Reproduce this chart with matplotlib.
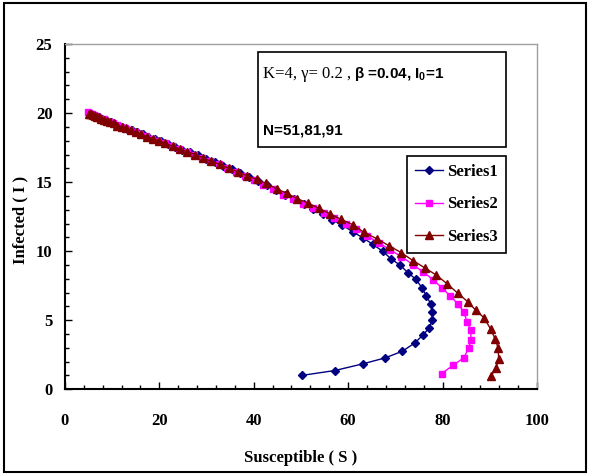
import matplotlib
matplotlib.use("Agg")
import matplotlib.pyplot as plt
from matplotlib.patches import Rectangle
from matplotlib.ticker import MultipleLocator

plt.rcParams['mathtext.fontset'] = 'custom'
plt.rcParams['mathtext.rm'] = 'Liberation Sans'
plt.rcParams['mathtext.bf'] = 'Liberation Sans:bold'

# S-I trajectories for N = 51, 81, 91
s1 = [50.3, 57.2, 63.2, 67.9, 71.5, 74.2, 75.9, 77.2, 77.8, 77.8, 77.5, 76.6, 75.6, 74.4,
      72.7, 71.0, 69.1, 67.3, 65.2, 63.1, 61.0, 58.7, 56.6, 54.6, 52.6, 50.6, 48.6, 46.7,
      44.8, 42.9, 41.0, 39.1, 37.2, 35.3, 33.5, 31.7, 29.9, 28.2, 26.5, 24.9, 23.3, 21.8,
      20.4, 19.0, 17.7, 16.5, 15.3, 14.2, 13.2, 12.2, 11.3, 10.5, 9.7, 9.0, 8.4, 7.8, 7.2,
      6.7, 6.3, 5.9, 5.6, 5.3, 5.1]
i1 = [1.0, 1.35, 1.84, 2.27, 2.75, 3.36, 3.94, 4.44, 5.0, 5.58, 6.18, 6.76, 7.36, 7.95,
      8.43, 8.99, 9.44, 10.0, 10.5, 10.97, 11.4, 11.9, 12.27, 12.66, 13.04, 13.4, 13.75, 14.1,
      14.45, 14.8, 15.1, 15.4, 15.65, 15.95, 16.2, 16.45, 16.7, 16.95, 17.15, 17.35, 17.55, 17.75,
      17.95, 18.1, 18.3, 18.45, 18.6, 18.75, 18.85, 19.0, 19.1, 19.2, 19.35, 19.45, 19.5, 19.6, 19.7,
      19.75, 19.8, 19.85, 19.9, 19.95, 20.0]

s2 = [79.8, 82.3, 84.5, 85.6, 86.0, 86.0, 85.2, 84.5, 83.2, 81.6, 79.8, 78.0, 75.9, 73.7,
      71.3, 68.9, 66.5, 64.1, 61.7, 59.5, 57.1, 54.9, 52.6, 50.4, 48.3, 46.3, 44.1, 42.0,
      40.0, 38.1, 36.2, 34.4, 32.6, 30.8, 29.1, 27.4, 25.8, 24.2, 22.7, 21.2, 19.8, 18.5,
      17.2, 16.0, 14.9, 13.8, 12.8, 11.9, 11.0, 10.2, 9.5, 8.8, 8.2, 7.6, 7.1, 6.6, 6.2,
      5.8, 5.5, 5.2, 4.9]
i2 = [1.13, 1.74, 2.27, 3.0, 3.57, 4.3, 4.88, 5.6, 6.2, 6.76, 7.36, 7.94, 8.48, 9.03,
      9.6, 10.1, 10.6, 11.1, 11.6, 12.0, 12.4, 12.75, 13.1, 13.45, 13.8, 14.1, 14.5, 14.8,
      15.15, 15.45, 15.75, 16.0, 16.3, 16.55, 16.75, 17.0, 17.2, 17.4, 17.6, 17.8, 18.0, 18.15,
      18.35, 18.5, 18.6, 18.75, 18.9, 19.0, 19.15, 19.25, 19.35, 19.45, 19.55, 19.6, 19.7, 19.8,
      19.85, 19.9, 19.95, 20.0, 20.05]

s3 = [90.3, 91.3, 91.9, 91.8, 91.2, 90.2, 88.8, 87.1, 85.3, 83.2, 81.0, 78.7, 76.2, 73.8,
      71.2, 68.6, 66.1, 63.4, 61.1, 58.5, 56.2, 53.8, 51.4, 49.2, 47.0, 44.9, 42.7, 40.6,
      38.6, 36.6, 34.7, 32.8, 31.0, 29.3, 27.6, 25.9, 24.3, 22.8, 21.3, 19.9, 18.6, 17.3,
      16.1, 15.0, 13.9, 12.9, 12.0, 11.1, 10.3, 9.6, 8.9, 8.3, 7.7, 7.2, 6.7, 6.3, 5.9,
      5.6, 5.3, 5.1]
i3 = [0.97, 1.5, 2.17, 2.95, 3.6, 4.35, 5.17, 5.7, 6.35, 6.96, 7.63, 8.26, 8.8, 9.3,
      9.9, 10.4, 10.9, 11.35, 11.9, 12.3, 12.7, 13.1, 13.5, 13.8, 14.2, 14.5, 14.9, 15.2,
      15.45, 15.75, 16.0, 16.3, 16.5, 16.75, 17.0, 17.2, 17.4, 17.6, 17.8, 18.0, 18.15, 18.3,
      18.45, 18.6, 18.75, 18.9, 19.0, 19.1, 19.25, 19.35, 19.45, 19.5, 19.6, 19.7, 19.75, 19.8,
      19.85, 19.9, 19.95, 19.95]

labels = ['Series1', 'Series2', 'Series3']

serif = 'Liberation Serif'
sans = 'Liberation Sans'

fig = plt.figure(figsize=(5.9, 4.74), dpi=100)
ax = fig.add_axes([0.110, 0.179, 0.800, 0.728])

ax.plot(s1, i1, color='#000080', marker='D', markersize=4.5, linewidth=1, label=labels[0])
ax.plot(s2, i2, color='#ff00ff', marker='s', markersize=5, linewidth=1, label=labels[1])
ax.plot(s3, i3, color='#800000', marker='^', markersize=6, linewidth=1, label=labels[2])

ax.set_xlim(0, 100)
ax.set_ylim(0, 25)
ax.xaxis.set_major_locator(MultipleLocator(20))
ax.xaxis.set_minor_locator(MultipleLocator(4))
ax.yaxis.set_major_locator(MultipleLocator(5))
ax.yaxis.set_minor_locator(MultipleLocator(1))
ax.tick_params(axis='both', which='both', direction='in', colors='black')
ax.tick_params(axis='both', which='major', length=5, width=1)
ax.tick_params(axis='both', which='minor', length=3, width=1)
ax.tick_params(axis='x', which='major', pad=17)
ax.tick_params(axis='y', which='major', pad=9)
for lab in ax.get_xticklabels() + ax.get_yticklabels():
    lab.set_fontfamily(serif)
    lab.set_fontweight('bold')
    lab.set_fontsize(12)

for side in ['left', 'bottom']:
    ax.spines[side].set_linewidth(1.5)
    ax.spines[side].set_color('black')
for side in ['top', 'right']:
    ax.spines[side].set_linewidth(1)
    ax.spines[side].set_color('#a0a0a0')

ax.set_xlabel('Susceptible ( S )', fontfamily=serif, fontweight='bold', fontsize=12)
ax.set_ylabel('Infected ( I )', fontfamily=serif, fontweight='bold', fontsize=12)
ax.xaxis.set_label_coords(0.5, -0.175)
ax.yaxis.set_label_coords(-0.078, 0.49)

# parameter box
ax.add_patch(Rectangle((0.409, 0.701), 0.525, 0.276, transform=ax.transAxes,
                       fill=True, facecolor='white', edgecolor='black', linewidth=1.2, zorder=4))
ax.text(0.419, 0.913, 'K=4, γ= 0.2 ,', transform=ax.transAxes, fontfamily=serif,
        fontsize=12, va='center', ha='left', zorder=5)
ax.text(0.612, 0.913, r'β =0.04, I$_{\mathbf{0}}$=1', transform=ax.transAxes, fontfamily=sans,
        fontweight='bold', fontsize=11, va='center', ha='left', zorder=5)
ax.text(0.419, 0.751, 'N=51,81,91', transform=ax.transAxes, fontfamily=sans,
        fontweight='bold', fontsize=11, va='center', ha='left', zorder=5)

leg = ax.legend(loc='upper right', bbox_to_anchor=(0.934, 0.675), frameon=True, fancybox=False,
                edgecolor='black', framealpha=1, handlelength=1.7, labelspacing=1.0,
                borderpad=0.45, handletextpad=0.25, borderaxespad=0,
                prop={'family': serif, 'weight': 'bold', 'size': 12})
leg.get_frame().set_linewidth(1.2)

# outer frame
fig.patches.append(Rectangle((4 / 590, 2 / 474), 582 / 590, 469 / 474, transform=fig.transFigure,
                             fill=False, edgecolor='black', linewidth=1.5))

fig.savefig('out.png', dpi=100)
